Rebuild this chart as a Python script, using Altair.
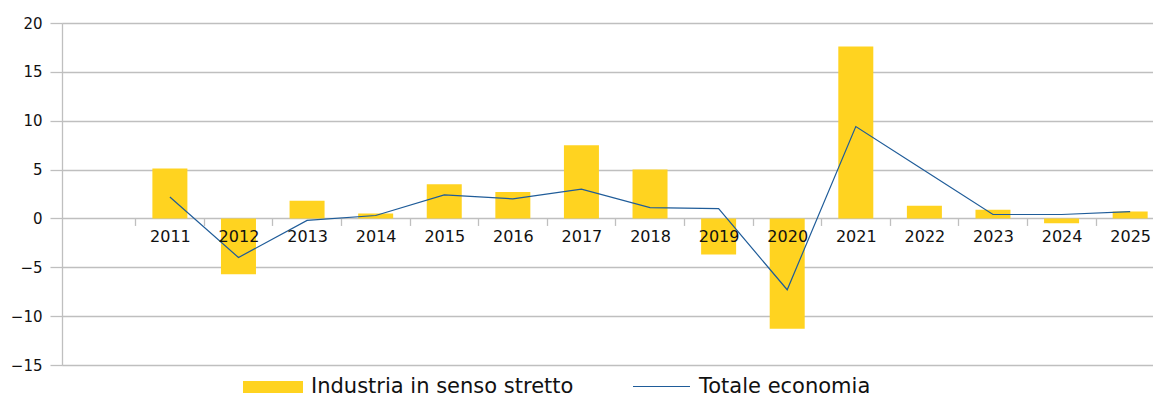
import altair as alt
import pandas as pd

# ---- data ----
years = [2011, 2012, 2013, 2014, 2015, 2016, 2017, 2018, 2019, 2020, 2021, 2022, 2023, 2024, 2025]
industria = [5.1, -5.7, 1.8, 0.5, 3.5, 2.7, 7.5, 5.0, -3.7, -11.3, 17.6, 1.3, 0.9, -0.5, 0.7]
totale = [2.2, -4.0, -0.2, 0.3, 2.4, 2.0, 3.0, 1.1, 1.0, -7.3, 9.4, 4.9, 0.4, 0.4, 0.7]
y_ticks = [-15, -10, -5, 0, 5, 10, 15, 20]
series_names = ["Industria in senso stretto", "Totale economia"]

BAR_COLOR = "#FFD320"
LINE_COLOR = "#1F5C99"
GRID = "#BFBFBF"
FONT = "DejaVu Sans"

df = pd.DataFrame({"anno": years, "industria": industria, "totale": totale})

W, H = 1091, 342
x_dom = [2009.5, 2025.26]
y_dom = [-15, 20]
half_step = 0.5 * W / (x_dom[1] - x_dom[0])
zero_offset = -H * (0 - y_dom[0]) / (y_dom[1] - y_dom[0])

x_enc = alt.X(
    "anno:Q",
    scale=alt.Scale(domain=x_dom, nice=False, zero=False),
    axis=alt.Axis(
        values=years, format="d", title=None, grid=False, domain=False,
        tickOffset=-half_step, labelOffset=half_step, offset=zero_offset,
        tickColor=GRID, tickSize=7, tickWidth=1.3, labelPadding=3,
        labelFont=FONT, labelFontSize=16, labelColor="#111111",
        labelFlush=False, labelOverlap=False, zindex=2,
    ),
)

y_scale = alt.Scale(domain=y_dom, nice=False, zero=False)
y_axis = alt.Axis(
    values=y_ticks, title=None, grid=True, gridColor=GRID, gridWidth=1.3,
    domain=True, domainColor=GRID, domainWidth=1.3,
    tickColor=GRID, tickSize=12, tickWidth=1.3, labelPadding=8,
    labelFont=FONT, labelFontSize=15, labelColor="#111111", zindex=0,
)

LEG_Y = 334

bars = alt.Chart(df).transform_calculate(
    serie=f"'{series_names[0]}'"
).mark_bar(size=35).encode(
    x=x_enc,
    y=alt.Y("industria:Q", scale=y_scale, axis=y_axis),
    fill=alt.Fill(
        "serie:N",
        scale=alt.Scale(domain=[series_names[0]], range=[BAR_COLOR]),
        legend=alt.Legend(
            title=None, orient="none", legendX=181, legendY=LEG_Y, direction="horizontal",
            symbolType="M-1,-0.2H1V0.2H-1Z", symbolSize=3600, symbolStrokeWidth=0,
            symbolFillColor=BAR_COLOR, symbolOpacity=1,
            labelFont=FONT, labelFontSize=21, labelColor="#111111", labelLimit=0,
            labelOffset=8, padding=0,
        ),
    ),
)

line = alt.Chart(df).transform_calculate(
    serie2=f"'{series_names[1]}'"
).mark_line(strokeWidth=1.2).encode(
    x=alt.X("anno:Q"),
    y=alt.Y("totale:Q"),
    stroke=alt.Stroke(
        "serie2:N",
        scale=alt.Scale(domain=[series_names[1]], range=[LINE_COLOR]),
        legend=alt.Legend(
            title=None, orient="none", legendX=570, legendY=LEG_Y, direction="horizontal",
            symbolType="M-1,0H1", symbolSize=3249, symbolStrokeWidth=1.2,
            labelFont=FONT, labelFontSize=21, labelColor="#111111", labelLimit=0,
            labelOffset=8, padding=0,
        ),
    ),
)

chart = alt.layer(bars, line).properties(
    width=W, height=H,
    autosize=alt.AutoSizeParams(type="none"),
    padding={"left": 54, "top": 15, "right": 0, "bottom": 35},
).configure_view(stroke=None).configure(background="white")

chart.save("out.html", embed_options={"renderer": "svg", "actions": False})
